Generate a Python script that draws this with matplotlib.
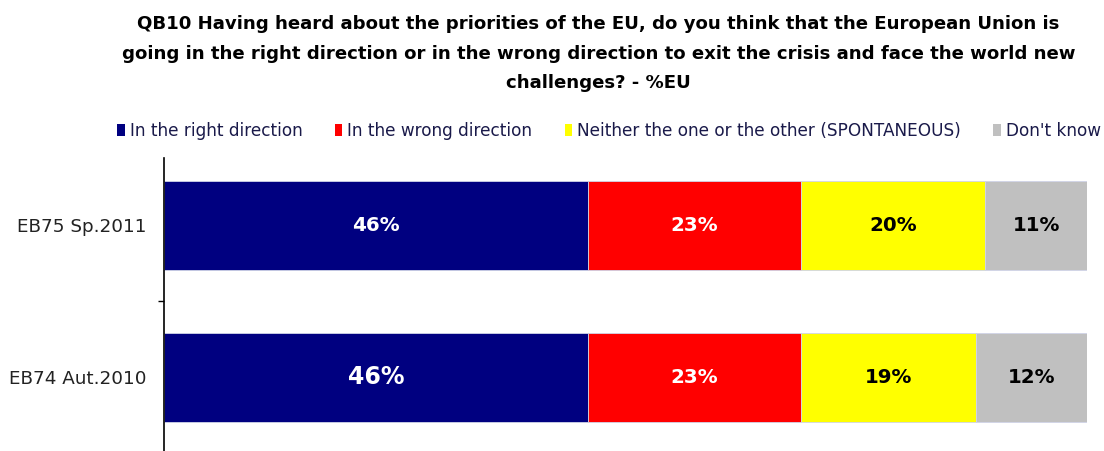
import matplotlib
matplotlib.use("Agg")
import matplotlib.pyplot as plt
from matplotlib.patches import Patch

# Eurobarometer QB10 results, %EU
waves = ["EB74 Aut.2010", "EB75 Sp.2011"]
answers = [
    "In the right direction",
    "In the wrong direction",
    "Neither the one or the other (SPONTANEOUS)",
    "Don't know",
]
right_direction = [46, 46]
wrong_direction = [23, 23]
neither = [19, 20]
dont_know = [12, 11]

colors = ["#000080", "#FF0000", "#FFFF00", "#C0C0C0"]
label_colors = ["white", "white", "black", "black"]

title = ("QB10 Having heard about the priorities of the EU, do you think that the European Union is\n"
         "going in the right direction or in the wrong direction to exit the crisis and face the world new\n"
         "challenges? - %EU")

fig = plt.figure(figsize=(11.04, 4.51), dpi=100)
ax = fig.add_axes([0.1481, 0.0, 0.8365, 0.6497])

series = [right_direction, wrong_direction, neither, dont_know]
ypos = list(range(len(waves)))
left = [0] * len(waves)
for vals, col, tcol in zip(series, colors, label_colors):
    ax.barh(ypos, vals, left=left, height=0.587, color=col,
            edgecolor="#d0d4e8", linewidth=0.6)
    for y, v, l in zip(ypos, vals, left):
        # the older wave's leading share is printed larger
        size = 17 if (col == colors[0] and y == 0) else 14.3
        ax.text(l + v / 2, y, f"{v}%", ha="center", va="center",
                color=tcol, fontsize=size, fontweight="bold")
    left = [a + b for a, b in zip(left, vals)]

ax.set_xlim(0, 100)
ax.set_ylim(-0.488, 1.4455)
ax.set_xticks([])
ax.set_yticks(ypos)
ax.set_yticklabels(waves, fontsize=13.2, color="#222222")
ax.tick_params(axis="y", which="major", length=0, pad=12)
ax.set_yticks([0.5], minor=True)
ax.tick_params(axis="y", which="minor", length=4, width=1, direction="out")
for side in ("top", "right", "bottom"):
    ax.spines[side].set_visible(False)
ax.spines["left"].set_linewidth(1.2)

fig.text(0.542, 0.966, title, ha="center", va="top", fontsize=13.1,
         fontweight="bold", linespacing=1.82)

handles = [Patch(facecolor=c, edgecolor="none") for c in colors]
fig.legend(handles, answers, loc="center", bbox_to_anchor=(0.5516, 0.7095),
           ncol=4, frameon=False, fontsize=12.2, handlelength=0.45,
           handleheight=0.7, handletextpad=0.3, columnspacing=1.9,
           labelcolor="#1a1a4a")

fig.savefig("out.png", dpi=100)
